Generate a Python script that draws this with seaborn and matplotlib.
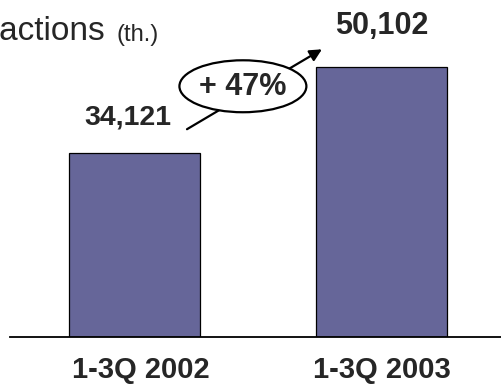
import matplotlib
matplotlib.use("Agg")
import matplotlib.pyplot as plt
import seaborn as sns
from matplotlib.patches import Ellipse

periods = ["1-3Q 2002", "1-3Q 2003"]
transactions = [34121, 50102]
value_labels = ["34,121", "50,102"]
growth_label = "+ 47%"

sns.set_style("white")
plt.rcParams["font.family"] = ["Liberation Sans", "DejaVu Sans"]

fig = plt.figure(figsize=(5.01, 3.86), dpi=100)
ax = fig.add_axes([10 / 501, 49 / 386, 491 / 501, 337 / 386])

sns.barplot(x=periods, y=transactions, color="#666699", saturation=1,
            width=0.53, edgecolor="black", linewidth=0.9, ax=ax)

ax.set_xlim(-0.504, 1.484)
ax.set_ylim(0, 62600)
ax.set_yticks([])
ax.set_xlabel("")
ax.set_ylabel("")
for s in ["top", "right", "left"]:
    ax.spines[s].set_visible(False)
ax.spines["bottom"].set_color("black")
ax.spines["bottom"].set_linewidth(1.3)
# labels sit a touch right of the first bar in the source
ax.set_xticks([0.025, 1], labels=periods)
ax.tick_params(axis="x", length=0, pad=14)
for lbl in ax.get_xticklabels():
    lbl.set_fontsize(21)
    lbl.set_fontweight("bold")

# value labels above bars
offsets = [(-5, 26), (0, 30)]
sizes = [20.5, 22]
for i, (v, t) in enumerate(zip(transactions, value_labels)):
    ax.annotate(t, xy=(i, v), xytext=offsets[i], textcoords="offset points",
                ha="center", va="center", fontsize=sizes[i], fontweight="bold")

# growth arrow with ellipse
ax.annotate("", xy=(0.759, 53441), xytext=(0.2126, 38597),
            arrowprops=dict(arrowstyle="-|>", color="black", lw=1.6,
                            mutation_scale=18, shrinkA=0, shrinkB=0))
ell = Ellipse((0.439, 46576), width=0.514, height=9650, facecolor="white",
              edgecolor="black", linewidth=1.6, zorder=5)
ax.add_patch(ell)
ax.text(0.439, 46400, growth_label, ha="center", va="center", fontsize=22,
        fontweight="bold", zorder=6)

# title, cut off at the left edge like the source slide
fig.text(105 / 501, 1 - 40 / 386, "Transactions", ha="right",
         va="baseline", fontsize=24)
fig.text(116 / 501, 1 - 41 / 386, "(th.)", ha="left", va="baseline",
         fontsize=17)

fig.savefig("out.png", dpi=100)
